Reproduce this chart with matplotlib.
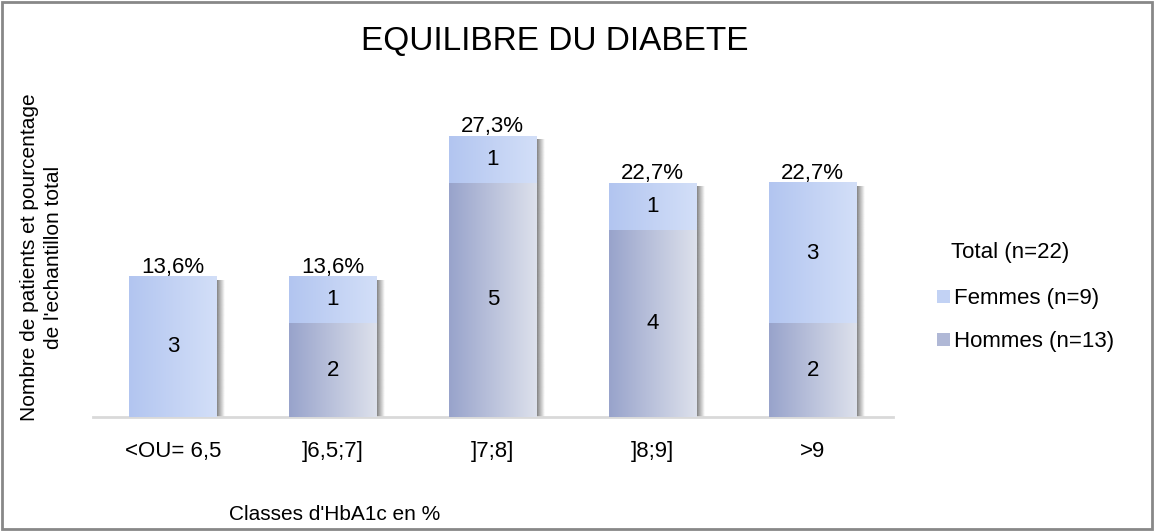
import numpy as np
import matplotlib
matplotlib.use('Agg')
import matplotlib.pyplot as plt
from matplotlib.colors import LinearSegmentedColormap
from matplotlib.patches import Patch, Rectangle

# data
classes = ['<OU= 6,5', ']6,5;7]', ']7;8]', ']8;9]', '>9']
hommes = [0, 2, 5, 4, 2]
femmes = [3, 1, 1, 1, 3]
n_total = 22

plt.rcParams['font.family'] = ['Liberation Sans', 'DejaVu Sans']

fig = plt.figure(figsize=(11.54, 5.31), dpi=100)
ax = fig.add_axes([0.0806, 0.2147, 0.693, 0.617])

x = np.arange(len(classes))
width = 0.55

cm_h = LinearSegmentedColormap.from_list('h', ['#98A3CB', '#DDE1EC'])
cm_f = LinearSegmentedColormap.from_list('f', ['#B2C5F0', '#D3DFF8'])
grad = np.linspace(0, 1, 256).reshape(1, -1)

bars_h = ax.bar(x, hommes, width, color='#BCC3DC', zorder=2)
bars_f = ax.bar(x, femmes, width, bottom=hommes, color='#C2D2F4', zorder=2)

# drop shadow on the right of each bar
sh = 0.045
sh_cmap = LinearSegmentedColormap.from_list('s', [(0.4, 0.4, 0.4, 0), (0.4, 0.4, 0.4, 1)])
for i in range(len(classes)):
    tot = hommes[i] + femmes[i]
    left = x[i] - width / 2
    shadow = np.linspace(0.8, 0, 32).reshape(1, -1)
    ax.imshow(shadow, extent=[left + width, left + width + sh, 0, tot - 0.08],
              aspect='auto', cmap=sh_cmap, vmin=0, vmax=1, zorder=1)

# gradient fill
for bars, cm in [(bars_h, cm_h), (bars_f, cm_f)]:
    for p in bars:
        if p.get_height() == 0:
            continue
        x0, y0 = p.get_x(), p.get_y()
        ax.imshow(grad, extent=[x0, x0 + p.get_width(), y0, y0 + p.get_height()],
                  aspect='auto', cmap=cm, zorder=3)

# segment labels and totals
for i in range(len(classes)):
    if hommes[i] > 0:
        ax.text(x[i], hommes[i] / 2, str(hommes[i]), ha='center', va='center',
                fontsize=16, zorder=5)
    if femmes[i] > 0:
        ax.text(x[i], hommes[i] + femmes[i] / 2, str(femmes[i]), ha='center',
                va='center', fontsize=16, zorder=5)
    tot = hommes[i] + femmes[i]
    pct = f"{tot / n_total * 100:.1f}%".replace('.', ',')
    ax.text(x[i], tot - 0.02, pct, ha='center', va='bottom', fontsize=16, zorder=5)

ax.set_xlim(-0.5, len(classes) - 0.5)
ax.set_ylim(0, 7)
ax.set_xticks(x)
ax.set_xticklabels(classes, fontsize=16)
ax.tick_params(axis='x', length=0, pad=17)
ax.set_yticks([])
for s in ['top', 'right', 'left']:
    ax.spines[s].set_visible(False)
ax.spines['bottom'].set_color('#D9D9D9')
ax.spines['bottom'].set_linewidth(2)

fig.text(0.481, 0.922, 'EQUILIBRE DU DIABETE', ha='center', va='center', fontsize=24)
fig.text(0.29, 0.032, "Classes d'HbA1c en %", ha='center', va='center', fontsize=15)
fig.text(0.036, 0.515, "Nombre de patients et pourcentage\nde l'echantillon total",
         ha='center', va='center', rotation=90, fontsize=15, linespacing=1.35)

handles = [Patch(facecolor='#C2D2F4'), Patch(facecolor='#B0B8D6')]
leg = fig.legend(handles, ['Femmes (n=9)', 'Hommes (n=13)'], title='Total (n=22)',
                 loc='center left', bbox_to_anchor=(0.795, 0.44), frameon=False,
                 fontsize=16, title_fontsize=16, handlelength=0.55, handleheight=0.55,
                 handletextpad=0.2, labelspacing=1.0)
leg._legend_box.align = 'left'
leg._legend_box.sep = 18
leg.get_title().set_position((14, 0))

fig.patches.append(Rectangle((0.002, 0.004), 0.996, 0.993, transform=fig.transFigure,
                             fill=False, edgecolor='#888888', linewidth=2))

fig.savefig('out.png', dpi=100, facecolor='white')
